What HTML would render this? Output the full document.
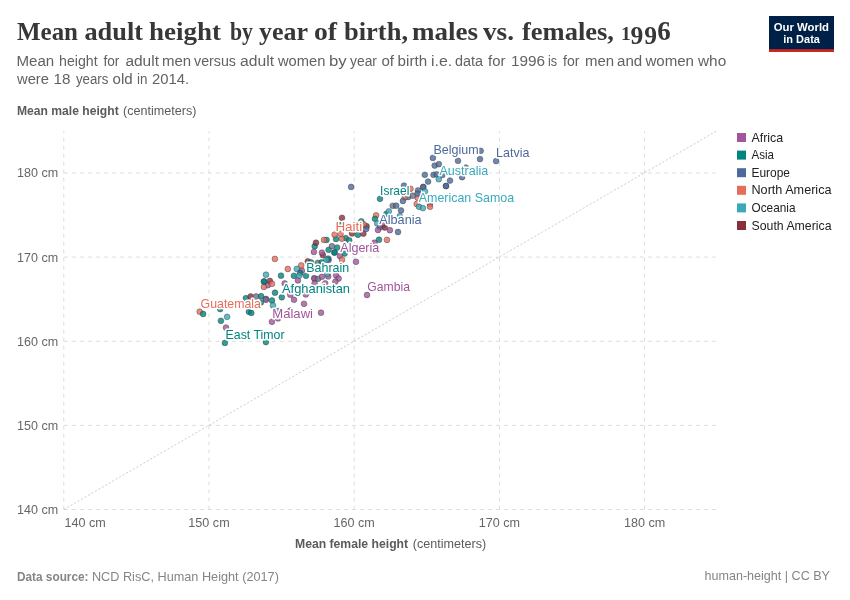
<!DOCTYPE html>
<html><head><meta charset="utf-8"><title>Mean adult height</title>
<style>html,body{margin:0;padding:0;background:#fff;}body{width:850px;height:600px;overflow:hidden;font-family:"Liberation Sans",sans-serif;}</style></head>
<body>
<svg width="850" height="600" viewBox="0 0 850 600" style="display:block;will-change:transform;font-family:'Liberation Sans',sans-serif">
<rect width="850" height="600" fill="#fff"/>
<text x="17.0" y="40.1" font-size="26" fill="#373737" text-anchor="start" font-weight="700" font-family="Liberation Serif, sans-serif" textLength="61.0" lengthAdjust="spacingAndGlyphs">Mean</text>
<text x="84.4" y="40.1" font-size="26" fill="#373737" text-anchor="start" font-weight="700" font-family="Liberation Serif, sans-serif" textLength="58.6" lengthAdjust="spacingAndGlyphs">adult</text>
<text x="149.0" y="40.1" font-size="26" fill="#373737" text-anchor="start" font-weight="700" font-family="Liberation Serif, sans-serif" textLength="72.0" lengthAdjust="spacingAndGlyphs">height</text>
<text x="230.0" y="40.1" font-size="26" fill="#373737" text-anchor="start" font-weight="700" font-family="Liberation Serif, sans-serif" textLength="23.0" lengthAdjust="spacingAndGlyphs">by</text>
<text x="259.0" y="40.1" font-size="26" fill="#373737" text-anchor="start" font-weight="700" font-family="Liberation Serif, sans-serif" textLength="49.0" lengthAdjust="spacingAndGlyphs">year</text>
<text x="314.0" y="40.1" font-size="26" fill="#373737" text-anchor="start" font-weight="700" font-family="Liberation Serif, sans-serif" textLength="23.0" lengthAdjust="spacingAndGlyphs">of</text>
<text x="344.0" y="40.1" font-size="26" fill="#373737" text-anchor="start" font-weight="700" font-family="Liberation Serif, sans-serif" textLength="64.0" lengthAdjust="spacingAndGlyphs">birth,</text>
<text x="412.0" y="40.1" font-size="26" fill="#373737" text-anchor="start" font-weight="700" font-family="Liberation Serif, sans-serif" textLength="66.1" lengthAdjust="spacingAndGlyphs">males</text>
<text x="483.0" y="40.1" font-size="26" fill="#373737" text-anchor="start" font-weight="700" font-family="Liberation Serif, sans-serif" textLength="31.0" lengthAdjust="spacingAndGlyphs">vs.</text>
<text x="522.0" y="40.1" font-size="26" fill="#373737" text-anchor="start" font-weight="700" font-family="Liberation Serif, sans-serif" textLength="92.0" lengthAdjust="spacingAndGlyphs">females,</text>
<text x="620.9" y="40.1" font-size="19.6" fill="#373737" text-anchor="start" font-weight="700" font-family="Liberation Serif, sans-serif">1</text>
<text x="630.6" y="43.7" font-size="25.5" fill="#373737" text-anchor="start" font-weight="700" font-family="Liberation Serif, sans-serif">9</text>
<text x="644.3" y="43.7" font-size="25.5" fill="#373737" text-anchor="start" font-weight="700" font-family="Liberation Serif, sans-serif">9</text>
<text x="657.2" y="40.1" font-size="27" fill="#373737" text-anchor="start" font-weight="700" font-family="Liberation Serif, sans-serif">6</text>
<text x="16.4" y="66.2" font-size="14.7" fill="#626262" text-anchor="start" font-weight="400" font-family="Liberation Sans, sans-serif" textLength="37.8" lengthAdjust="spacingAndGlyphs">Mean</text>
<text x="59.0" y="66.2" font-size="14.7" fill="#626262" text-anchor="start" font-weight="400" font-family="Liberation Sans, sans-serif" textLength="38.7" lengthAdjust="spacingAndGlyphs">height</text>
<text x="103.4" y="66.2" font-size="14.7" fill="#626262" text-anchor="start" font-weight="400" font-family="Liberation Sans, sans-serif" textLength="16.0" lengthAdjust="spacingAndGlyphs">for</text>
<text x="125.4" y="66.2" font-size="14.7" fill="#626262" text-anchor="start" font-weight="400" font-family="Liberation Sans, sans-serif" textLength="33.6" lengthAdjust="spacingAndGlyphs">adult</text>
<text x="162.0" y="66.2" font-size="14.7" fill="#626262" text-anchor="start" font-weight="400" font-family="Liberation Sans, sans-serif" textLength="29.2" lengthAdjust="spacingAndGlyphs">men</text>
<text x="194.0" y="66.2" font-size="14.7" fill="#626262" text-anchor="start" font-weight="400" font-family="Liberation Sans, sans-serif" textLength="42.0" lengthAdjust="spacingAndGlyphs">versus</text>
<text x="240.0" y="66.2" font-size="14.7" fill="#626262" text-anchor="start" font-weight="400" font-family="Liberation Sans, sans-serif" textLength="34.0" lengthAdjust="spacingAndGlyphs">adult</text>
<text x="278.0" y="66.2" font-size="14.7" fill="#626262" text-anchor="start" font-weight="400" font-family="Liberation Sans, sans-serif" textLength="47.4" lengthAdjust="spacingAndGlyphs">women</text>
<text x="329.0" y="66.2" font-size="14.7" fill="#626262" text-anchor="start" font-weight="400" font-family="Liberation Sans, sans-serif" textLength="17.7" lengthAdjust="spacingAndGlyphs">by</text>
<text x="350.0" y="66.2" font-size="14.7" fill="#626262" text-anchor="start" font-weight="400" font-family="Liberation Sans, sans-serif" textLength="27.0" lengthAdjust="spacingAndGlyphs">year</text>
<text x="381.4" y="66.2" font-size="14.7" fill="#626262" text-anchor="start" font-weight="400" font-family="Liberation Sans, sans-serif" textLength="12.6" lengthAdjust="spacingAndGlyphs">of</text>
<text x="397.6" y="66.2" font-size="14.7" fill="#626262" text-anchor="start" font-weight="400" font-family="Liberation Sans, sans-serif" textLength="29.5" lengthAdjust="spacingAndGlyphs">birth</text>
<text x="431.0" y="66.2" font-size="14.7" fill="#626262" text-anchor="start" font-weight="400" font-family="Liberation Sans, sans-serif" textLength="21.2" lengthAdjust="spacingAndGlyphs">i.e.</text>
<text x="455.0" y="66.2" font-size="14.7" fill="#626262" text-anchor="start" font-weight="400" font-family="Liberation Sans, sans-serif" textLength="28.0" lengthAdjust="spacingAndGlyphs">data</text>
<text x="488.0" y="66.2" font-size="14.7" fill="#626262" text-anchor="start" font-weight="400" font-family="Liberation Sans, sans-serif" textLength="17.4" lengthAdjust="spacingAndGlyphs">for</text>
<text x="511.0" y="66.2" font-size="14.7" fill="#626262" text-anchor="start" font-weight="400" font-family="Liberation Sans, sans-serif" textLength="34.1" lengthAdjust="spacingAndGlyphs">1996</text>
<text x="548.0" y="66.2" font-size="14.7" fill="#626262" text-anchor="start" font-weight="400" font-family="Liberation Sans, sans-serif" textLength="9.1" lengthAdjust="spacingAndGlyphs">is</text>
<text x="563.0" y="66.2" font-size="14.7" fill="#626262" text-anchor="start" font-weight="400" font-family="Liberation Sans, sans-serif" textLength="16.4" lengthAdjust="spacingAndGlyphs">for</text>
<text x="585.0" y="66.2" font-size="14.7" fill="#626262" text-anchor="start" font-weight="400" font-family="Liberation Sans, sans-serif" textLength="29.2" lengthAdjust="spacingAndGlyphs">men</text>
<text x="617.0" y="66.2" font-size="14.7" fill="#626262" text-anchor="start" font-weight="400" font-family="Liberation Sans, sans-serif" textLength="25.2" lengthAdjust="spacingAndGlyphs">and</text>
<text x="645.4" y="66.2" font-size="14.7" fill="#626262" text-anchor="start" font-weight="400" font-family="Liberation Sans, sans-serif" textLength="48.6" lengthAdjust="spacingAndGlyphs">women</text>
<text x="698.0" y="66.2" font-size="14.7" fill="#626262" text-anchor="start" font-weight="400" font-family="Liberation Sans, sans-serif" textLength="28.2" lengthAdjust="spacingAndGlyphs">who</text>
<text x="17.0" y="83.8" font-size="14.7" fill="#626262" text-anchor="start" font-weight="400" font-family="Liberation Sans, sans-serif" textLength="32.0" lengthAdjust="spacingAndGlyphs">were</text>
<text x="53.6" y="83.8" font-size="14.7" fill="#626262" text-anchor="start" font-weight="400" font-family="Liberation Sans, sans-serif" textLength="16.9" lengthAdjust="spacingAndGlyphs">18</text>
<text x="76.0" y="83.8" font-size="14.7" fill="#626262" text-anchor="start" font-weight="400" font-family="Liberation Sans, sans-serif" textLength="32.4" lengthAdjust="spacingAndGlyphs">years</text>
<text x="112.6" y="83.8" font-size="14.7" fill="#626262" text-anchor="start" font-weight="400" font-family="Liberation Sans, sans-serif" textLength="20.2" lengthAdjust="spacingAndGlyphs">old</text>
<text x="137.0" y="83.8" font-size="14.7" fill="#626262" text-anchor="start" font-weight="400" font-family="Liberation Sans, sans-serif" textLength="10.4" lengthAdjust="spacingAndGlyphs">in</text>
<text x="152.0" y="83.8" font-size="14.7" fill="#626262" text-anchor="start" font-weight="400" font-family="Liberation Sans, sans-serif" textLength="37.1" lengthAdjust="spacingAndGlyphs">2014.</text>
<rect x="769" y="16" width="65" height="36" fill="#002147"/><rect x="769" y="49.2" width="65" height="2.8" fill="#ce261e"/>
<text x="801.4" y="30.6" font-size="11" fill="#fff" text-anchor="middle" font-weight="700" font-family="Liberation Sans, sans-serif" textLength="55.2" lengthAdjust="spacingAndGlyphs">Our World</text>
<text x="801.6" y="42.7" font-size="11" fill="#fff" text-anchor="middle" font-weight="700" font-family="Liberation Sans, sans-serif" textLength="36.6" lengthAdjust="spacingAndGlyphs">in Data</text>
<text x="17" y="114.9" font-size="12.2" fill="#5b5b5b" text-anchor="start" font-weight="700" font-family="Liberation Sans, sans-serif" textLength="101.7" lengthAdjust="spacingAndGlyphs">Mean male height</text>
<text x="123" y="114.9" font-size="12.2" fill="#5b5b5b" text-anchor="start" font-weight="400" font-family="Liberation Sans, sans-serif" textLength="73.4" lengthAdjust="spacingAndGlyphs">(centimeters)</text>
<text x="295" y="548.3" font-size="12.2" fill="#5b5b5b" text-anchor="start" font-weight="700" font-family="Liberation Sans, sans-serif" textLength="113.1" lengthAdjust="spacingAndGlyphs">Mean female height</text>
<text x="412.8" y="548.3" font-size="12.2" fill="#5b5b5b" text-anchor="start" font-weight="400" font-family="Liberation Sans, sans-serif" textLength="73.5" lengthAdjust="spacingAndGlyphs">(centimeters)</text>
<g stroke="#ddd" stroke-width="1" stroke-dasharray="4,4" fill="none"><line x1="63.80" y1="509.5" x2="63.80" y2="131.2"/><line x1="63.8" y1="509.50" x2="716.3" y2="509.50"/><line x1="209.00" y1="509.5" x2="209.00" y2="131.2"/><line x1="63.8" y1="425.38" x2="716.3" y2="425.38"/><line x1="354.20" y1="509.5" x2="354.20" y2="131.2"/><line x1="63.8" y1="341.25" x2="716.3" y2="341.25"/><line x1="499.40" y1="509.5" x2="499.40" y2="131.2"/><line x1="63.8" y1="257.12" x2="716.3" y2="257.12"/><line x1="644.60" y1="509.5" x2="644.60" y2="131.2"/><line x1="63.8" y1="173.00" x2="716.3" y2="173.00"/></g>
<line x1="63.8" y1="509.5" x2="716.3" y2="131.2" stroke="#ccc" stroke-width="1" stroke-dasharray="2,2"/>
<text x="58.2" y="513.9" font-size="12.8" fill="#666" text-anchor="end" font-weight="400" font-family="Liberation Sans, sans-serif" textLength="41.1" lengthAdjust="spacingAndGlyphs">140 cm</text>
<text x="64.5" y="527.3" font-size="12.8" fill="#666" text-anchor="start" font-weight="400" font-family="Liberation Sans, sans-serif" textLength="41.3" lengthAdjust="spacingAndGlyphs">140 cm</text>
<text x="58.2" y="429.8" font-size="12.8" fill="#666" text-anchor="end" font-weight="400" font-family="Liberation Sans, sans-serif" textLength="41.1" lengthAdjust="spacingAndGlyphs">150 cm</text>
<text x="209.0" y="527.3" font-size="12.8" fill="#666" text-anchor="middle" font-weight="400" font-family="Liberation Sans, sans-serif" textLength="41.3" lengthAdjust="spacingAndGlyphs">150 cm</text>
<text x="58.2" y="345.6" font-size="12.8" fill="#666" text-anchor="end" font-weight="400" font-family="Liberation Sans, sans-serif" textLength="41.1" lengthAdjust="spacingAndGlyphs">160 cm</text>
<text x="354.2" y="527.3" font-size="12.8" fill="#666" text-anchor="middle" font-weight="400" font-family="Liberation Sans, sans-serif" textLength="41.3" lengthAdjust="spacingAndGlyphs">160 cm</text>
<text x="58.2" y="261.5" font-size="12.8" fill="#666" text-anchor="end" font-weight="400" font-family="Liberation Sans, sans-serif" textLength="41.1" lengthAdjust="spacingAndGlyphs">170 cm</text>
<text x="499.4" y="527.3" font-size="12.8" fill="#666" text-anchor="middle" font-weight="400" font-family="Liberation Sans, sans-serif" textLength="41.3" lengthAdjust="spacingAndGlyphs">170 cm</text>
<text x="58.2" y="177.4" font-size="12.8" fill="#666" text-anchor="end" font-weight="400" font-family="Liberation Sans, sans-serif" textLength="41.1" lengthAdjust="spacingAndGlyphs">180 cm</text>
<text x="644.6" y="527.3" font-size="12.8" fill="#666" text-anchor="middle" font-weight="400" font-family="Liberation Sans, sans-serif" textLength="41.3" lengthAdjust="spacingAndGlyphs">180 cm</text>
<rect x="737" y="133.0" width="9" height="9" fill="#a2559c"/>
<text x="751.5" y="141.6" font-size="12.2" fill="#222" text-anchor="start" font-weight="400" font-family="Liberation Sans, sans-serif" textLength="31.7" lengthAdjust="spacingAndGlyphs">Africa</text>
<rect x="737" y="150.6" width="9" height="9" fill="#00847e"/>
<text x="751.5" y="159.2" font-size="12.2" fill="#222" text-anchor="start" font-weight="400" font-family="Liberation Sans, sans-serif" textLength="22.5" lengthAdjust="spacingAndGlyphs">Asia</text>
<rect x="737" y="168.2" width="9" height="9" fill="#4c6a9c"/>
<text x="751.5" y="176.8" font-size="12.2" fill="#222" text-anchor="start" font-weight="400" font-family="Liberation Sans, sans-serif" textLength="38.5" lengthAdjust="spacingAndGlyphs">Europe</text>
<rect x="737" y="185.8" width="9" height="9" fill="#e56e5a"/>
<text x="751.5" y="194.4" font-size="12.2" fill="#222" text-anchor="start" font-weight="400" font-family="Liberation Sans, sans-serif" textLength="80" lengthAdjust="spacingAndGlyphs">North America</text>
<rect x="737" y="203.4" width="9" height="9" fill="#38aaba"/>
<text x="751.5" y="212.0" font-size="12.2" fill="#222" text-anchor="start" font-weight="400" font-family="Liberation Sans, sans-serif" textLength="44" lengthAdjust="spacingAndGlyphs">Oceania</text>
<rect x="737" y="221.0" width="9" height="9" fill="#883039"/>
<text x="751.5" y="229.6" font-size="12.2" fill="#222" text-anchor="start" font-weight="400" font-family="Liberation Sans, sans-serif" textLength="80" lengthAdjust="spacingAndGlyphs">South America</text>
<g stroke-width="0.5" fill-opacity="0.8" stroke-opacity="0.8"><circle cx="199.7" cy="311.7" r="2.9" fill="#e56e5a" stroke="#333"/><circle cx="203.1" cy="314.0" r="2.9" fill="#00847e" stroke="#333"/><circle cx="220.2" cy="309.1" r="2.9" fill="#00847e" stroke="#333"/><circle cx="227.1" cy="316.8" r="2.9" fill="#38aaba" stroke="#333"/><circle cx="220.9" cy="320.8" r="2.9" fill="#00847e" stroke="#333"/><circle cx="226" cy="327.6" r="2.9" fill="#a2559c" stroke="#333"/><circle cx="224.9" cy="342.9" r="2.9" fill="#00847e" stroke="#333"/><circle cx="265.9" cy="342.1" r="2.9" fill="#00847e" stroke="#333"/><circle cx="248.9" cy="311.7" r="2.9" fill="#00847e" stroke="#333"/><circle cx="251.3" cy="312.9" r="2.9" fill="#00847e" stroke="#333"/><circle cx="266.0" cy="298.9" r="2.9" fill="#00847e" stroke="#333"/><circle cx="265.9" cy="299.8" r="2.9" fill="#a2559c" stroke="#333"/><circle cx="272" cy="300.5" r="2.9" fill="#00847e" stroke="#333"/><circle cx="273" cy="305.4" r="2.9" fill="#38aaba" stroke="#333"/><circle cx="278.4" cy="311" r="2.9" fill="#38aaba" stroke="#333"/><circle cx="294" cy="299.7" r="2.9" fill="#a2559c" stroke="#333"/><circle cx="271.9" cy="321.8" r="2.9" fill="#a2559c" stroke="#333"/><circle cx="278.0" cy="318.4" r="2.9" fill="#a2559c" stroke="#333"/><circle cx="281.8" cy="297.3" r="2.9" fill="#00847e" stroke="#333"/><circle cx="260.9" cy="302.4" r="2.9" fill="#00847e" stroke="#333"/><circle cx="245.9" cy="298.2" r="2.9" fill="#00847e" stroke="#333"/><circle cx="250.6" cy="296.5" r="2.9" fill="#883039" stroke="#333"/><circle cx="256.1" cy="296.5" r="2.9" fill="#6c7186" stroke="#333"/><circle cx="261.1" cy="296.2" r="2.9" fill="#00847e" stroke="#333"/><circle cx="290.2" cy="310.6" r="2.9" fill="#a2559c" stroke="#333"/><circle cx="266.0" cy="274.7" r="2.9" fill="#38aaba" stroke="#333"/><circle cx="267.8" cy="285.2" r="2.9" fill="#a2559c" stroke="#333"/><circle cx="263.9" cy="286.9" r="2.9" fill="#e56e5a" stroke="#333"/><circle cx="263.9" cy="281.6" r="2.9" fill="#00847e" stroke="#333"/><circle cx="264.1" cy="281.4" r="2.9" fill="#00847e" stroke="#333"/><circle cx="269.9" cy="280.9" r="2.9" fill="#883039" stroke="#333"/><circle cx="272" cy="283.8" r="2.9" fill="#e56e5a" stroke="#333"/><circle cx="281" cy="275.7" r="2.9" fill="#00847e" stroke="#333"/><circle cx="293.9" cy="275.8" r="2.9" fill="#00847e" stroke="#333"/><circle cx="287.8" cy="269" r="2.9" fill="#e56e5a" stroke="#333"/><circle cx="296.8" cy="268.9" r="2.9" fill="#38aaba" stroke="#333"/><circle cx="284.7" cy="283.4" r="2.9" fill="#a2559c" stroke="#333"/><circle cx="275" cy="292.7" r="2.9" fill="#00847e" stroke="#333"/><circle cx="290.3" cy="294.7" r="2.9" fill="#a2559c" stroke="#333"/><circle cx="297.9" cy="280.4" r="2.9" fill="#a2559c" stroke="#333"/><circle cx="301.9" cy="270.6" r="2.9" fill="#a2559c" stroke="#333"/><circle cx="300.1" cy="273" r="2.9" fill="#00847e" stroke="#333"/><circle cx="299.3" cy="275.6" r="2.9" fill="#38aaba" stroke="#333"/><circle cx="306" cy="275.8" r="2.9" fill="#00847e" stroke="#333"/><circle cx="314.2" cy="278.2" r="2.9" fill="#a2559c" stroke="#333"/><circle cx="314.6" cy="278.8" r="2.9" fill="#a2559c" stroke="#333"/><circle cx="318.1" cy="278.8" r="2.9" fill="#6c7186" stroke="#333"/><circle cx="322" cy="276.7" r="2.9" fill="#a2559c" stroke="#333"/><circle cx="328.2" cy="276.4" r="2.9" fill="#a2559c" stroke="#333"/><circle cx="327.3" cy="273.8" r="2.9" fill="#38aaba" stroke="#333"/><circle cx="336.1" cy="275.4" r="2.9" fill="#a2559c" stroke="#333"/><circle cx="338.6" cy="278.5" r="2.9" fill="#a2559c" stroke="#333"/><circle cx="335.4" cy="281.6" r="2.9" fill="#a2559c" stroke="#333"/><circle cx="314.6" cy="283.4" r="2.9" fill="#a2559c" stroke="#333"/><circle cx="325.2" cy="283.4" r="2.9" fill="#a2559c" stroke="#333"/><circle cx="305.8" cy="294.4" r="2.9" fill="#a2559c" stroke="#333"/><circle cx="304" cy="303.8" r="2.9" fill="#a2559c" stroke="#333"/><circle cx="321" cy="312.7" r="2.9" fill="#a2559c" stroke="#333"/><circle cx="367" cy="295.0" r="2.9" fill="#a2559c" stroke="#333"/><circle cx="274.9" cy="258.9" r="2.9" fill="#e56e5a" stroke="#333"/><circle cx="301.2" cy="265.4" r="2.9" fill="#e56e5a" stroke="#333"/><circle cx="307.8" cy="261.3" r="2.9" fill="#883039" stroke="#333"/><circle cx="314.7" cy="246.2" r="2.9" fill="#00847e" stroke="#333"/><circle cx="316" cy="242.7" r="2.9" fill="#883039" stroke="#333"/><circle cx="313.9" cy="251.9" r="2.9" fill="#a2559c" stroke="#333"/><circle cx="326.5" cy="239.9" r="2.9" fill="#00847e" stroke="#333"/><circle cx="324" cy="239.9" r="2.9" fill="#e56e5a" stroke="#333"/><circle cx="336" cy="239" r="2.9" fill="#00847e" stroke="#333"/><circle cx="345.7" cy="238.1" r="2.9" fill="#00847e" stroke="#333"/><circle cx="342" cy="238.8" r="2.9" fill="#e56e5a" stroke="#333"/><circle cx="349.2" cy="240.3" r="2.9" fill="#00847e" stroke="#333"/><circle cx="357.9" cy="234.8" r="2.9" fill="#00847e" stroke="#333"/><circle cx="328.6" cy="249.8" r="2.9" fill="#00847e" stroke="#333"/><circle cx="337.2" cy="247.6" r="2.9" fill="#00847e" stroke="#333"/><circle cx="332" cy="246.2" r="2.9" fill="#6c7186" stroke="#333"/><circle cx="334.4" cy="252.6" r="2.9" fill="#00847e" stroke="#333"/><circle cx="334.6" cy="252.4" r="2.9" fill="#00847e" stroke="#333"/><circle cx="322.9" cy="255.1" r="2.9" fill="#883039" stroke="#333"/><circle cx="321.9" cy="252.6" r="2.9" fill="#a2559c" stroke="#333"/><circle cx="344.7" cy="253.5" r="2.9" fill="#00847e" stroke="#333"/><circle cx="340" cy="256" r="2.9" fill="#a2559c" stroke="#333"/><circle cx="342" cy="259.7" r="2.9" fill="#e56e5a" stroke="#333"/><circle cx="356" cy="261.8" r="2.9" fill="#a2559c" stroke="#333"/><circle cx="328.6" cy="259.9" r="2.9" fill="#a2559c" stroke="#333"/><circle cx="328.2" cy="258.6" r="2.9" fill="#00847e" stroke="#333"/><circle cx="326.3" cy="259.8" r="2.9" fill="#38aaba" stroke="#333"/><circle cx="317.8" cy="262.9" r="2.9" fill="#6c7186" stroke="#333"/><circle cx="321.6" cy="262.4" r="2.9" fill="#00847e" stroke="#333"/><circle cx="311" cy="262.3" r="2.9" fill="#00847e" stroke="#333"/><circle cx="379" cy="239.7" r="2.9" fill="#00847e" stroke="#333"/><circle cx="387" cy="239.9" r="2.9" fill="#e56e5a" stroke="#333"/><circle cx="374.5" cy="242.7" r="2.9" fill="#a2559c" stroke="#333"/><circle cx="352" cy="233.4" r="2.9" fill="#883039" stroke="#333"/><circle cx="363.4" cy="233.7" r="2.9" fill="#883039" stroke="#333"/><circle cx="380" cy="227.3" r="2.9" fill="#4c6a9c" stroke="#333"/><circle cx="378" cy="230" r="2.9" fill="#a2559c" stroke="#333"/><circle cx="389.9" cy="230.2" r="2.9" fill="#a2559c" stroke="#333"/><circle cx="398" cy="232" r="2.9" fill="#4c6a9c" stroke="#333"/><circle cx="334.6" cy="234.7" r="2.9" fill="#e56e5a" stroke="#333"/><circle cx="340.5" cy="233.8" r="2.9" fill="#e56e5a" stroke="#333"/><circle cx="342" cy="217.8" r="2.9" fill="#883039" stroke="#333"/><circle cx="339.9" cy="225.2" r="2.9" fill="#00847e" stroke="#333"/><circle cx="361.3" cy="221.3" r="2.9" fill="#00847e" stroke="#333"/><circle cx="366.6" cy="226.2" r="2.9" fill="#883039" stroke="#333"/><circle cx="363.8" cy="224.5" r="2.9" fill="#e56e5a" stroke="#333"/><circle cx="366.2" cy="228.9" r="2.9" fill="#4c6a9c" stroke="#333"/><circle cx="376.1" cy="215.3" r="2.9" fill="#e56e5a" stroke="#333"/><circle cx="374.9" cy="218.8" r="2.9" fill="#00847e" stroke="#333"/><circle cx="377.2" cy="223.4" r="2.9" fill="#38aaba" stroke="#333"/><circle cx="383.2" cy="225.2" r="2.9" fill="#a2559c" stroke="#333"/><circle cx="384.8" cy="227.6" r="2.9" fill="#883039" stroke="#333"/><circle cx="386.4" cy="213.9" r="2.9" fill="#00847e" stroke="#333"/><circle cx="388.8" cy="211.4" r="2.9" fill="#38aaba" stroke="#333"/><circle cx="392.7" cy="205.8" r="2.9" fill="#6c7186" stroke="#333"/><circle cx="396.2" cy="205.7" r="2.9" fill="#4c6a9c" stroke="#333"/><circle cx="401" cy="210.5" r="2.9" fill="#4c6a9c" stroke="#333"/><circle cx="399.8" cy="216.2" r="2.9" fill="#38aaba" stroke="#333"/><circle cx="416.7" cy="204.0" r="2.9" fill="#e56e5a" stroke="#333"/><circle cx="380" cy="198.8" r="2.9" fill="#00847e" stroke="#333"/><circle cx="404" cy="185.6" r="2.9" fill="#4c6a9c" stroke="#333"/><circle cx="410.5" cy="188.8" r="2.9" fill="#e56e5a" stroke="#333"/><circle cx="408.2" cy="197" r="2.9" fill="#4c6a9c" stroke="#333"/><circle cx="404.8" cy="197.4" r="2.9" fill="#e56e5a" stroke="#333"/><circle cx="412.8" cy="195.7" r="2.9" fill="#6c7186" stroke="#333"/><circle cx="402.9" cy="201" r="2.9" fill="#4c6a9c" stroke="#333"/><circle cx="424.8" cy="174.8" r="2.9" fill="#4c6a9c" stroke="#333"/><circle cx="433.5" cy="174.8" r="2.9" fill="#4c6a9c" stroke="#333"/><circle cx="436.6" cy="174.3" r="2.9" fill="#4c6a9c" stroke="#333"/><circle cx="442.4" cy="174.9" r="2.9" fill="#4c6a9c" stroke="#333"/><circle cx="438.8" cy="179.2" r="2.9" fill="#38aaba" stroke="#333"/><circle cx="428.1" cy="181.6" r="2.9" fill="#4c6a9c" stroke="#333"/><circle cx="423.3" cy="186.9" r="2.9" fill="#4c6a9c" stroke="#333"/><circle cx="423.1" cy="187.1" r="2.9" fill="#4c6a9c" stroke="#333"/><circle cx="425" cy="191.5" r="2.9" fill="#38aaba" stroke="#333"/><circle cx="417.9" cy="198.0" r="2.9" fill="#e56e5a" stroke="#333"/><circle cx="418" cy="190.5" r="2.9" fill="#4c6a9c" stroke="#333"/><circle cx="417.6" cy="193.6" r="2.9" fill="#4c6a9c" stroke="#333"/><circle cx="419" cy="206.7" r="2.9" fill="#38aaba" stroke="#333"/><circle cx="422.9" cy="208.1" r="2.9" fill="#38aaba" stroke="#333"/><circle cx="430" cy="203.9" r="2.9" fill="#4c6a9c" stroke="#333"/><circle cx="430" cy="206.7" r="2.9" fill="#e56e5a" stroke="#333"/><circle cx="450" cy="180.6" r="2.9" fill="#4c6a9c" stroke="#333"/><circle cx="445.9" cy="185.9" r="2.9" fill="#4c6a9c" stroke="#333"/><circle cx="446.1" cy="186.1" r="2.9" fill="#4c6a9c" stroke="#333"/><circle cx="462.1" cy="177.2" r="2.9" fill="#4c6a9c" stroke="#333"/><circle cx="432.9" cy="157.9" r="2.9" fill="#4c6a9c" stroke="#333"/><circle cx="458" cy="160.8" r="2.9" fill="#4c6a9c" stroke="#333"/><circle cx="434.7" cy="165.6" r="2.9" fill="#4c6a9c" stroke="#333"/><circle cx="438.9" cy="164.2" r="2.9" fill="#4c6a9c" stroke="#333"/><circle cx="465.8" cy="167.6" r="2.9" fill="#4c6a9c" stroke="#333"/><circle cx="480" cy="159.1" r="2.9" fill="#4c6a9c" stroke="#333"/><circle cx="496.1" cy="161.1" r="2.9" fill="#4c6a9c" stroke="#333"/><circle cx="480.7" cy="150.8" r="2.9" fill="#4c6a9c" stroke="#333"/><circle cx="351.1" cy="186.9" r="2.9" fill="#4c6a9c" stroke="#333"/></g><g font-size="13" font-family="Liberation Sans, sans-serif" stroke-linejoin="round"><text x="200.6" y="307.6" textLength="60.3" lengthAdjust="spacingAndGlyphs" fill="#e56e5a" stroke="#fff" stroke-width="3" paint-order="stroke" style="paint-order:stroke">Guatemala</text><text x="272.3" y="317.5" textLength="40.7" lengthAdjust="spacingAndGlyphs" fill="#a2559c" stroke="#fff" stroke-width="3" paint-order="stroke" style="paint-order:stroke">Malawi</text><text x="225.6" y="338.5" textLength="58.9" lengthAdjust="spacingAndGlyphs" fill="#00847e" stroke="#fff" stroke-width="3" paint-order="stroke" style="paint-order:stroke">East Timor</text><text x="282.0" y="292.9" textLength="68.0" lengthAdjust="spacingAndGlyphs" fill="#00847e" stroke="#fff" stroke-width="3" paint-order="stroke" style="paint-order:stroke">Afghanistan</text><text x="367.3" y="290.7" textLength="42.7" lengthAdjust="spacingAndGlyphs" fill="#a2559c" stroke="#fff" stroke-width="3" paint-order="stroke" style="paint-order:stroke">Gambia</text><text x="306.3" y="271.6" textLength="42.9" lengthAdjust="spacingAndGlyphs" fill="#00847e" stroke="#fff" stroke-width="3" paint-order="stroke" style="paint-order:stroke">Bahrain</text><text x="340.3" y="251.6" textLength="39.0" lengthAdjust="spacingAndGlyphs" fill="#a2559c" stroke="#fff" stroke-width="3" paint-order="stroke" style="paint-order:stroke">Algeria</text><text x="335.4" y="231.0" textLength="26.9" lengthAdjust="spacingAndGlyphs" fill="#e56e5a" stroke="#fff" stroke-width="3" paint-order="stroke" style="paint-order:stroke">Haiti</text><text x="379.3" y="223.7" textLength="42.3" lengthAdjust="spacingAndGlyphs" fill="#4c6a9c" stroke="#fff" stroke-width="3" paint-order="stroke" style="paint-order:stroke">Albania</text><text x="380.1" y="194.6" textLength="29.2" lengthAdjust="spacingAndGlyphs" fill="#00847e" stroke="#fff" stroke-width="3" paint-order="stroke" style="paint-order:stroke">Israel</text><text x="418.8" y="202.0" textLength="95.3" lengthAdjust="spacingAndGlyphs" fill="#38aaba" stroke="#fff" stroke-width="3" paint-order="stroke" style="paint-order:stroke">American Samoa</text><text x="439.4" y="174.6" textLength="48.8" lengthAdjust="spacingAndGlyphs" fill="#38aaba" stroke="#fff" stroke-width="3" paint-order="stroke" style="paint-order:stroke">Australia</text><text x="433.4" y="153.6" textLength="45.2" lengthAdjust="spacingAndGlyphs" fill="#4c6a9c" stroke="#fff" stroke-width="3" paint-order="stroke" style="paint-order:stroke">Belgium</text><text x="496.1" y="156.6" textLength="33.3" lengthAdjust="spacingAndGlyphs" fill="#4c6a9c" stroke="#fff" stroke-width="3" paint-order="stroke" style="paint-order:stroke">Latvia</text></g>
<text x="17" y="580.5" font-size="12.8" fill="#858585" text-anchor="start" font-weight="700" font-family="Liberation Sans, sans-serif" textLength="71.5" lengthAdjust="spacingAndGlyphs">Data source:</text>
<text x="91.9" y="580.5" font-size="12.8" fill="#858585" text-anchor="start" font-weight="400" font-family="Liberation Sans, sans-serif" textLength="187" lengthAdjust="spacingAndGlyphs">NCD RisC, Human Height (2017)</text>
<text x="830" y="580.4" font-size="12.8" fill="#858585" text-anchor="end" font-weight="400" font-family="Liberation Sans, sans-serif" textLength="125.5" lengthAdjust="spacingAndGlyphs">human-height | CC BY</text>
</svg>
</body></html>
